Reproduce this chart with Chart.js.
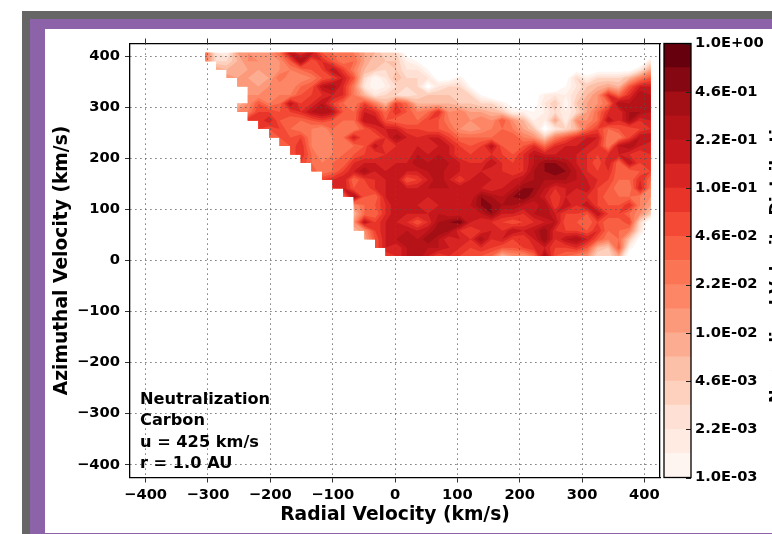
<!DOCTYPE html>
<html>
<head>
<meta charset="utf-8">
<title>Neutralization Carbon</title>
<script src="https://cdn.jsdelivr.net/npm/chart.js@4/dist/chart.umd.min.js"></script>
<style>
    html, body { margin: 0; padding: 0; background: #fff; overflow: hidden; }
    #page { position: relative; width: 772px; height: 534px; overflow: hidden; }
    #grey { position: absolute; left: 22px; top: 11px; right: 0; bottom: 0; background: #666; }
    #purple { position: absolute; left: 30px; top: 19px; right: 0; bottom: 0; background: #8c62a8; }
    #paper { position: absolute; left: 45px; top: 29px; right: 0; bottom: 1px; background: #fff; }
    #mainChart { position: absolute; left: 0; top: 0; }
    #barChart { position: absolute; left: 660px; top: 0; }
</style>
</head>
<body>
<div id="page">
    <div id="grey"></div>
    <div id="purple"></div>
    <div id="paper"></div>
    <canvas id="mainChart" width="772" height="534"></canvas>
    <canvas id="barChart" width="112" height="534"></canvas>
</div>
<script>
// Axis positions of the grid (km/s)
const radial = [-304,-287,-270,-253,-236,-219,-202,-185,-168,-151,-134,-117,-100,-83,-66,-49,-32,-15,2,19,36,53,70,87,104,121,138,155,172,189,206,223,240,257,274,291,308,325,342,359,376,393,410];
const azimuthal = [407,390.4,373.8,357.2,340.6,324,307.4,290.8,274.2,257.6,241,224.4,207.8,191.2,174.6,158,141.4,124.8,108.2,91.6,75,58.4,41.8,25.2,8.6];

// First filled column of each row (the lower left side has no data)
const rowStart = [0,0,1,2,3,4,3,3,4,5,6,7,8,9,10,11,12,13,14,14,14,14,15,16,17];

// Values, in colour bar steps (0 = 1.0E-03, 18 = 1.0E+00, below 0 = blank)
const row00 = [9,2,1,6,7,6,7,9,14,12,14,10,9,8,8,6,5,3,3,-1,-3,-3,-3,-3,-3,-3,-3,-3,-3,-3,-3,-3,-3,-3,-3,-3,-3,-3,-3,-3,-3,-3,-3];
const row01 = [8,3,3,5,7,7,6,7,10,15,10,12,10,8,9,6,4,4,4,1,0,-2,-3,-3,-3,-3,-3,-3,-3,-3,-3,-3,-3,-3,-3,-3,-3,-3,-3,-3,-3,-3,2];
const row02 = [6,5,5,6,6,6,7,8,9,10,11,14,11,8,5,4,3,4,2,2,0,-3,-3,-3,-3,-3,-3,-3,-3,-3,-3,-3,-3,-3,-1,-2,-1,-1,-1,-1,2,6];
const row03 = [7,6,6,5,6,9,7,7,8,10,11,13,10,3,0,2,5,3,3,2,-1,-1,1,-2,-3,-3,-3,-3,-3,-3,-3,-3,-1,3,1,3,3,3,5,8,10];
const row04 = [7,6,6,7,7,7,9,10,14,15,12,8,2,0,1,3,3,3,-1,2,3,3,0,-2,-3,-3,-3,-3,-3,-3,-3,0,2,4,5,6,5,10,13,13];
const row05 = [7,7,7,8,8,10,11,12,13,12,8,5,2,3,3,2,3,4,4,4,3,3,0,-2,-3,-3,-3,-1,1,2,1,3,5,7,12,9,12,15,14];
const row06 = [5,7,10,8,9,14,11,12,14,11,9,8,11,8,5,11,9,5,5,5,5,4,4,3,3,1,-1,-2,-1,2,4,0,4,6,7,9,15,14,14,15];
const row07 = [7,8,11,11,10,11,12,14,15,14,10,9,13,12,9,12,10,8,9,12,7,8,6,6,5,4,1,1,0,1,3,1,3,6,9,12,12,15,15,14];
const row08 = [12,11,13,10,9,9,10,11,10,9,9,14,14,10,9,9,9,11,10,8,7,7,8,7,10,7,5,1,1,6,1,7,7,9,14,12,15,12,13];
const row09 = [11,10,11,9,8,8,7,9,8,8,10,12,13,13,11,11,10,10,9,7,6,7,8,9,8,6,4,-1,2,3,5,9,11,9,10,10,11,12,12];
const row10 = [9,10,10,11,8,7,8,9,13,10,10,12,15,13,12,13,13,11,9,9,9,9,9,10,8,7,4,8,10,12,13,13,8,8,11,14,14,13];
const row11 = [9,10,12,8,7,8,8,9,10,14,11,12,12,13,12,13,13,11,10,11,14,10,9,10,12,9,12,13,13,13,12,8,14,15,13,12];
const row12 = [10,12,9,7,8,9,10,11,11,12,12,12,14,13,14,13,11,11,11,12,11,10,12,14,13,13,13,13,12,11,12,13,12,11,12];
const row13 = [11,9,8,9,9,12,13,13,12,13,13,15,14,14,14,13,12,12,14,12,11,12,14,16,16,15,13,12,10,13,9,14,11,11];
const row14 = [10,8,9,11,13,15,13,13,14,13,13,14,15,13,13,12,13,12,12,11,12,15,16,17,16,14,12,11,12,9,9,10,11];
const row15 = [11,12,13,9,11,12,13,14,10,11,13,15,13,11,13,13,13,12,13,14,15,15,15,15,14,13,12,11,9,9,12,9];
const row16 = [12,13,10,10,12,13,14,13,13,14,14,14,14,13,13,12,13,14,16,16,14,12,13,13,14,11,10,8,8,13,8];
const row17 = [9,15,10,9,13,13,14,14,13,13,13,13,13,16,15,14,16,17,15,13,11,13,12,12,11,9,9,9,8,7];
const row18 = [7,9,10,12,14,13,13,12,13,13,13,14,16,16,15,15,14,13,15,11,14,12,14,11,10,10,12,8,6];
const row19 = [5,9,9,12,14,13,13,13,14,13,13,13,14,16,13,13,12,14,15,13,11,11,10,14,11,11,9,7,4];
const row20 = [7,14,11,13,13,12,10,12,15,16,17,13,12,12,11,10,11,12,13,14,10,10,9,11,9,9,11,3,-2];
const row21 = [5,7,11,13,13,14,13,14,16,15,12,11,12,13,12,14,13,14,16,12,11,11,10,12,9,9,8,2,-2];
const row22 = [6,10,13,14,15,14,16,14,12,13,12,15,12,13,11,11,13,16,12,14,15,13,10,8,9,4,-1,-2];
const row23 = [10,13,12,14,14,14,14,13,12,11,12,11,10,10,11,12,13,11,11,12,10,5,4,10,1,-2,-2];
const row24 = [11,12,14,15,13,11,12,11,10,10,9,5,7,7,9,15,10,9,8,7,3,3,6,-2,-3,-3];
const rows = [row00,row01,row02,row03,row04,row05,row06,row07,row08,row09,row10,row11,row12,row13,row14,row15,row16,row17,row18,row19,row20,row21,row22,row23,row24];

// Tick values and colour bar
const xTicks = [-400,-300,-200,-100,0,100,200,300,400];
const yTicks = [-400,-300,-200,-100,0,100,200,300,400];
const barLabels = ['1.0E-03','2.2E-03','4.6E-03','1.0E-02','2.2E-02','4.6E-02','1.0E-01','2.2E-01','4.6E-01','1.0E+00'];
const barColors = ['#fff5f0','#ffebe2','#fee1d4','#fdd1be','#fcbfa7','#fcad91','#fc997a','#fc8666','#fb7454','#f85f43','#f34935','#e93529','#d82422','#c6171c','#b51318','#a30f15','#840711','#67000d'];
const noteLines = ['Neutralization','Carbon','u = 425 km/s','r = 1.0 AU'];

const tickFont = { family: '"DejaVu Sans"', size: 14.7, weight: 'bold' };
const titleFont = { family: '"DejaVu Sans"', size: 18.7, weight: 'bold' };

// Flat point list for the scatter dataset
const points = [];
rows.forEach(function (row, r) {
    row.forEach(function (v, i) {
        points.push({ x: radial[i + rowStart[r]], y: azimuthal[r], level: v });
    });
});

// Value at grid position, null where the row has no data
function cellValue(r, c) {
    const v = rows[r][c - rowStart[r]];
    return v === undefined ? null : v;
}

// Keep the part of a polygon that lies at or above the level
function clipToLevel(poly, level) {
    const out = [];
    for (let i = 0; i < poly.length; i++) {
        const a = poly[i];
        const b = poly[(i + 1) % poly.length];
        if (a.v >= level) out.push(a);
        if ((a.v >= level) !== (b.v >= level)) {
            const t = (level - a.v) / (b.v - a.v);
            out.push({ x: a.x + (b.x - a.x) * t, y: a.y + (b.y - a.y) * t, v: level });
        }
    }
    return out;
}

// Filled contours, painted from the lowest level up
const contourPlugin = {
    id: 'contourFill',
    beforeDatasetsDraw(chart) {
        const ctx = chart.ctx;
        const xs = chart.scales.x;
        const ys = chart.scales.y;
        ctx.save();
        barColors.forEach(function (color, level) {
            ctx.beginPath();
            for (let r = 0; r < rows.length - 1; r++) {
                for (let c = 0; c < radial.length - 1; c++) {
                    const v = [cellValue(r, c), cellValue(r, c + 1), cellValue(r + 1, c + 1), cellValue(r + 1, c)];
                    if (v.includes(null)) continue;
                    const x0 = xs.getPixelForValue(radial[c]);
                    const x1 = xs.getPixelForValue(radial[c + 1]);
                    const y0 = ys.getPixelForValue(azimuthal[r]);
                    const y1 = ys.getPixelForValue(azimuthal[r + 1]);
                    const poly = clipToLevel([
                        { x: x0, y: y0, v: v[0] },
                        { x: x1, y: y0, v: v[1] },
                        { x: x1, y: y1, v: v[2] },
                        { x: x0, y: y1, v: v[3] }
                    ], level);
                    if (poly.length < 3) continue;
                    ctx.moveTo(poly[0].x, poly[0].y);
                    for (let i = 1; i < poly.length; i++) ctx.lineTo(poly[i].x, poly[i].y);
                    ctx.closePath();
                }
            }
            ctx.fillStyle = color;
            ctx.fill();
        });
        ctx.restore();
    },
    afterDraw(chart) {
        const ctx = chart.ctx;
        ctx.save();
        ctx.font = 'bold 16.2px "DejaVu Sans"';
        ctx.fillStyle = '#000';
        ctx.textAlign = 'left';
        ctx.textBaseline = 'alphabetic';
        noteLines.forEach(function (line, i) {
            ctx.fillText(line, 140, 403.5 + i * 21.5);
        });
        ctx.restore();
    }
};

function minusLabel(v) {
    return String(v).replace('-', '\u2212');
}

new Chart(document.getElementById('mainChart'), {
    type: 'scatter',
    data: {
        datasets: [{ data: points, pointRadius: 0, pointHoverRadius: 0 }]
    },
    plugins: [contourPlugin],
    options: {
        responsive: false,
        animation: false,
        events: [],
        layout: { padding: { left: 51, right: 112, top: 43.5, bottom: 8 } },
        plugins: { legend: { display: false }, tooltip: { enabled: false } },
        scales: {
            x: {
                type: 'linear', position: 'bottom', min: -425, max: 425,
                afterBuildTicks(scale) { scale.ticks = xTicks.map(v => ({ value: v })); },
                afterFit(scale) { scale.height = 48.5; },
                ticks: { color: '#000', font: tickFont, padding: 4, maxRotation: 0, autoSkip: false, callback: minusLabel, z: 1 },
                grid: { z: 1, color: '#555', lineWidth: 1, tickLength: 5, tickColor: '#333' },
                border: { z: 1, color: '#000', width: 1.3, dash: [1.2, 3.8] },
                title: { display: true, text: 'Radial Velocity (km/s)', color: '#000', font: titleFont, padding: 0 }
            },
            y: {
                type: 'linear', position: 'left', min: -425, max: 425,
                afterBuildTicks(scale) { scale.ticks = yTicks.map(v => ({ value: v })); },
                afterFit(scale) { scale.width = 79; },
                ticks: { color: '#000', font: tickFont, padding: 5, autoSkip: false, callback: minusLabel, z: 1 },
                grid: { z: 1, color: '#555', lineWidth: 1, tickLength: 5, tickColor: '#333' },
                border: { z: 1, color: '#000', width: 1.3, dash: [1.2, 3.8] },
                title: { display: true, text: 'Azimuthal Velocity (km/s)', color: '#000', font: titleFont, padding: 0 }
            },
            xTop: {
                type: 'linear', position: 'top', min: -425, max: 425,
                afterBuildTicks(scale) { scale.ticks = xTicks.map(v => ({ value: v })); },
                afterFit(scale) { scale.height = 0; },
                ticks: { display: false },
                grid: { drawOnChartArea: false, tickLength: 5, tickColor: '#333' },
                border: { color: '#000', width: 1.3 }
            },
            yRight: {
                type: 'linear', position: 'right', min: -425, max: 425,
                afterBuildTicks(scale) { scale.ticks = yTicks.map(v => ({ value: v })); },
                afterFit(scale) { scale.width = 0; },
                ticks: { display: false },
                grid: { drawOnChartArea: false, drawTicks: false },
                border: { color: '#000', width: 1.3 }
            }
        }
    }
});

// Outline, inside ticks and clipped side label of the colour bar
const barFramePlugin = {
    id: 'barFrame',
    afterDraw(chart) {
        const ctx = chart.ctx;
        const area = chart.chartArea;
        const ys = chart.scales.y;
        ctx.save();
        ctx.strokeStyle = '#222';
        ctx.lineWidth = 1;
        ys.ticks.forEach(function (t) {
            const py = Math.round(ys.getPixelForValue(t.value)) + 0.5;
            ctx.beginPath();
            ctx.moveTo(area.right - 5, py);
            ctx.lineTo(area.right, py);
            ctx.stroke();
        });
        ctx.strokeStyle = '#000';
        ctx.lineWidth = 1.3;
        ctx.strokeRect(area.left, area.top, area.right - area.left, area.bottom - area.top);
        ctx.translate(121.3, 403);
        ctx.rotate(-Math.PI / 2);
        ctx.font = 'bold 16.2px "DejaVu Sans"';
        ctx.fillStyle = '#000';
        ctx.textAlign = 'left';
        ctx.fillText('Normalized Velocity Distribution', 0, 0);
        ctx.restore();
    }
};

new Chart(document.getElementById('barChart'), {
    type: 'bar',
    data: {
        labels: [''],
        datasets: barColors.map(function (color) {
            return { data: [1], backgroundColor: color, barPercentage: 1, categoryPercentage: 1 };
        })
    },
    plugins: [barFramePlugin],
    options: {
        responsive: false,
        animation: false,
        events: [],
        layout: { padding: { left: 4, right: 0, top: 43.5, bottom: 56.5 } },
        plugins: { legend: { display: false }, tooltip: { enabled: false } },
        scales: {
            x: { stacked: true, display: false },
            y: {
                stacked: true, position: 'right', min: 0, max: 18,
                afterBuildTicks(scale) { scale.ticks = barLabels.map((l, i) => ({ value: i * 2 })); },
                afterFit(scale) { scale.width = 81; },
                ticks: { color: '#000', font: tickFont, padding: 4, autoSkip: false, callback: v => barLabels[v / 2] },
                grid: { display: false, drawTicks: false },
                border: { display: false }
            }
        }
    }
});
</script>
</body>
</html>
